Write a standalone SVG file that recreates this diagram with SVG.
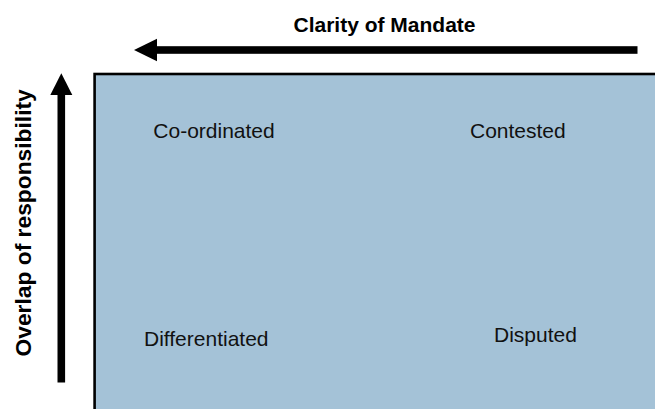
<svg xmlns="http://www.w3.org/2000/svg" width="655" height="409" viewBox="0 0 655 409">
<style>
.lbl{font-family:"Liberation Sans",Arial,sans-serif;font-size:21px;fill:#111}
.ttl{font-family:"Liberation Sans",Arial,sans-serif;font-size:21px;font-weight:bold;fill:#000}
</style>
<rect width="655" height="409" fill="#ffffff"/>
<g id="matrix">
<rect x="94.6" y="74" width="600" height="400" fill="#a4c2d7" stroke="#000" stroke-width="2.6"/>
</g>
<g id="connectors">
<g id="arrow-mandate">
<rect x="155" y="46.2" width="482.5" height="7.6" fill="#000"/>
<polygon points="134,50 157,38.8 157,61.2" fill="#000"/>
</g>
<g id="arrow-overlap">
<rect x="57.5" y="92" width="7.6" height="290.5" fill="#000"/>
<polygon points="61.3,73.3 50.3,95 72.3,95" fill="#000"/>
</g>
</g>
<g id="title-mandate"><text class="ttl" x="293.5" y="32">Clarity of Mandate</text></g>
<g id="title-overlap"><text class="ttl" style="font-size:22.8px" transform="translate(31,356.5) rotate(-90)" x="0" y="0">Overlap of responsibility</text></g>
<g id="q-coordinated"><text class="lbl" x="153.3" y="138.3">Co-ordinated</text></g>
<g id="q-contested"><text class="lbl" x="470" y="138.3">Contested</text></g>
<g id="q-differentiated"><text class="lbl" x="144" y="345.5">Differentiated</text></g>
<g id="q-disputed"><text class="lbl" x="494" y="341.5">Disputed</text></g>
</svg>
